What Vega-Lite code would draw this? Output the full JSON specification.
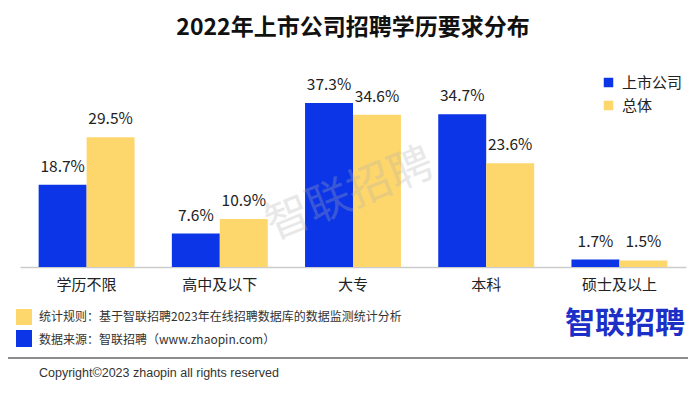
{
  "$schema": "https://vega.github.io/schema/vega-lite/v6.json",
  "width": 666,
  "height": 176,
  "autosize": {"type": "none"},
  "padding": {"left": 20, "top": 91, "right": 14, "bottom": 127},
  "background": "white",
  "title": {"text": "2022年上市公司招聘学历要求分布", "fontSize": 23, "fontWeight": "bold", "font": "Noto Sans CJK SC", "color": "#111111", "anchor": "middle", "offset": 35},
  "config": {"font": "Noto Sans CJK SC", "view": {"stroke": null}},
  "datasets": {
    "main": [
      {"cat": "学历不限", "series": "上市公司", "value": 0.187},
      {"cat": "学历不限", "series": "总体", "value": 0.295},
      {"cat": "高中及以下", "series": "上市公司", "value": 0.076},
      {"cat": "高中及以下", "series": "总体", "value": 0.109},
      {"cat": "大专", "series": "上市公司", "value": 0.373},
      {"cat": "大专", "series": "总体", "value": 0.346},
      {"cat": "本科", "series": "上市公司", "value": 0.347},
      {"cat": "本科", "series": "总体", "value": 0.236},
      {"cat": "硕士及以上", "series": "上市公司", "value": 0.017},
      {"cat": "硕士及以上", "series": "总体", "value": 0.015}
    ]
  },
  "layer": [
    {
      "data": {"name": "main"},
      "mark": {"type": "bar"},
      "encoding": {
        "x": {"field": "cat", "type": "nominal", "sort": ["学历不限", "高中及以下", "大专", "本科", "硕士及以上"],
              "scale": {"paddingInner": 0.28, "paddingOuter": 0.14},
              "axis": {"title": null, "labelAngle": 0, "labelFontSize": 15, "labelColor": "#222222", "ticks": false, "labelPadding": 10, "domainColor": "#cccccc", "domainWidth": 1.5}},
        "xOffset": {"field": "series", "type": "nominal", "sort": ["上市公司", "总体"], "scale": {"paddingInner": 0, "paddingOuter": 0}},
        "y": {"field": "value", "type": "quantitative", "scale": {"domain": [0, 0.4]}, "axis": null},
        "color": {"field": "series", "type": "nominal", "sort": ["上市公司", "总体"],
                  "scale": {"domain": ["上市公司", "总体"], "range": ["#0b35e6", "#fdd66c"]},
                  "legend": {"orient": "none", "legendX": 581, "legendY": -16, "title": null, "symbolType": "square", "symbolSize": 90, "symbolStrokeWidth": 0, "labelFontSize": 15, "labelColor": "#222222", "rowPadding": 7, "labelOffset": 6}}
      }
    },
    {
      "data": {"name": "main"},
      "mark": {"type": "text", "baseline": "alphabetic", "dy": -13, "fontSize": 15.5, "color": "#222222", "font": "Noto Sans CJK SC"},
      "encoding": {
        "x": {"field": "cat", "type": "nominal", "sort": ["学历不限", "高中及以下", "大专", "本科", "硕士及以上"]},
        "xOffset": {"field": "series", "type": "nominal", "sort": ["上市公司", "总体"]},
        "y": {"field": "value", "type": "quantitative"},
        "text": {"field": "value", "type": "quantitative", "format": ".1%"}
      }
    },
    {
      "data": {"values": [{"t": "智联招聘"}]},
      "mark": {"type": "text", "angle": -22, "fontSize": 44, "color": "#b0b0b0", "opacity": 0.28, "align": "center", "baseline": "middle", "x": 330, "y": 104},
      "encoding": {"text": {"field": "t"}}
    },
    {
      "data": {"values": [{}]},
      "mark": {"type": "rect", "color": "#fdd66c", "x": -4, "x2": 12, "y": 218, "y2": 234},
      "encoding": {}
    },
    {
      "data": {"values": [{}]},
      "mark": {"type": "rect", "color": "#0b35e6", "x": -4, "x2": 12, "y": 239, "y2": 256},
      "encoding": {}
    },
    {
      "data": {"values": [{"t": "统计规则：基于智联招聘2023年在线招聘数据库的数据监测统计分析"}]},
      "mark": {"type": "text", "fontSize": 12, "color": "#333333", "align": "left", "baseline": "middle", "x": 19, "y": 226},
      "encoding": {"text": {"field": "t"}}
    },
    {
      "data": {"values": [{"t": "数据来源：智联招聘（www.zhaopin.com）"}]},
      "mark": {"type": "text", "fontSize": 12, "color": "#333333", "align": "left", "baseline": "middle", "x": 19, "y": 249},
      "encoding": {"text": {"field": "t"}}
    },
    {
      "data": {"values": [{}]},
      "mark": {"type": "rule", "color": "#666666", "strokeWidth": 1.5},
      "encoding": {"x": {"value": -12}, "x2": {"value": 668}, "y": {"value": 267}, "y2": {"value": 267}}
    },
    {
      "data": {"values": [{"t": "Copyright©2023 zhaopin all rights reserved"}]},
      "mark": {"type": "text", "fontSize": 12.5, "color": "#333333", "align": "left", "baseline": "middle", "x": 19, "y": 282, "font": "Liberation Sans"},
      "encoding": {"text": {"field": "t"}}
    },
    {
      "data": {"values": [{"t": "智联招聘"}]},
      "mark": {"type": "text", "fontSize": 30, "fontWeight": "bold", "color": "#1c30c8", "align": "left", "baseline": "middle", "x": 545, "y": 233},
      "encoding": {"text": {"field": "t"}}
    }
  ]
}
